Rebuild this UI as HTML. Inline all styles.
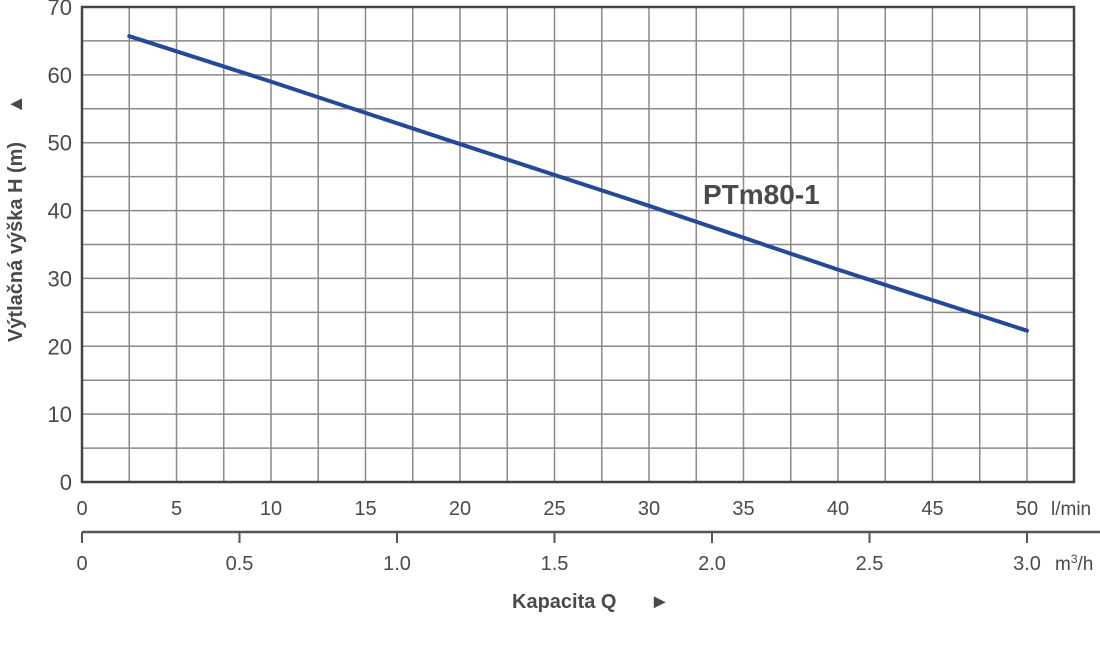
<!DOCTYPE html>
<html><head><meta charset="utf-8"><style>
body{margin:0;background:#fff;}
svg text{font-family:"Liberation Sans",Arial,sans-serif;fill:#4a4a4a;}
</style></head><body>
<svg id="chart" width="1100" height="640" xmlns="http://www.w3.org/2000/svg">
<g id="grid"></g>
<g id="axes"></g>
<g id="series"></g>
<text transform="translate(22,342) rotate(-90)" font-size="20" font-weight="bold" xml:space="preserve">Výtlačná výška H (m)     ▲</text>
<text x="512" y="608" font-size="20" font-weight="bold" xml:space="preserve">Kapacita Q      ►</text>
<text x="703" y="204" font-size="28" font-weight="bold">PTm80-1</text>
<text x="1051" y="515" font-size="19">l/min</text>
<text x="1055" y="570" font-size="19">m<tspan dy="-7" font-size="12">3</tspan><tspan dy="7">/h</tspan></text>
</svg>
<script>
const xTicks=[0,5,10,15,20,25,30,35,40,45,50];
const m3Ticks=["0","0.5","1.0","1.5","2.0","2.5","3.0"];
const yTicks=[0,10,20,30,40,50,60,70];
const flowQ=[2.5,10,20,30,40,50];
const headH=[65.7,59,49.8,40.7,31.3,22.3];
const NS="http://www.w3.org/2000/svg";
const X0=82,X50=1027,XR=1074,YT=7,YB=482;
const sx=v=>X0+(X50-X0)*v/50;
const sy=v=>YB-(YB-YT)*v/70;
function mk(p,t,a){const e=document.createElementNS(NS,t);for(const k in a)e.setAttribute(k,a[k]);p.appendChild(e);return e;}
const grid=document.getElementById('grid'),axes=document.getElementById('axes'),ser=document.getElementById('series');
for(let v=2.5;v<52.5;v+=2.5){const l=mk(grid,'line',{x1:sx(v),x2:sx(v),y1:YT,y2:YB,stroke:'#8a8a8a','stroke-width':1.5});

}
for(let v=5;v<70;v+=5){const l=mk(grid,'line',{x1:X0,x2:XR,y1:sy(v),y2:sy(v),stroke:'#8a8a8a','stroke-width':1.5});

}
const fr=mk(axes,'rect',{x:X0,y:YT,width:XR-X0,height:YB-YT,fill:'none',stroke:'#444','stroke-width':2.5});


yTicks.forEach(v=>{const t=mk(axes,'text',{x:72,y:sy(v)+8,'text-anchor':'end','font-size':22});t.textContent=v;

});
xTicks.forEach(v=>{const t=mk(axes,'text',{x:sx(v),y:515,'text-anchor':'middle','font-size':20});t.textContent=v;

});
const al=mk(axes,'line',{x1:X0,x2:1100,y1:532,y2:532,stroke:'#555','stroke-width':2.5});


m3Ticks.forEach(s=>{const x=sx(parseFloat(s)*50/3);
const tk=mk(axes,'line',{x1:x,x2:x,y1:532,y2:543,stroke:'#555','stroke-width':2});


const t=mk(axes,'text',{x:x,y:570,'text-anchor':'middle','font-size':20});t.textContent=s;

});
const pl=mk(ser,'polyline',{points:flowQ.map((q,i)=>sx(q)+','+sy(headH[i])).join(' '),fill:'none',stroke:'#24499a','stroke-width':4,'stroke-linecap':'round'});


</script>
</body></html>
